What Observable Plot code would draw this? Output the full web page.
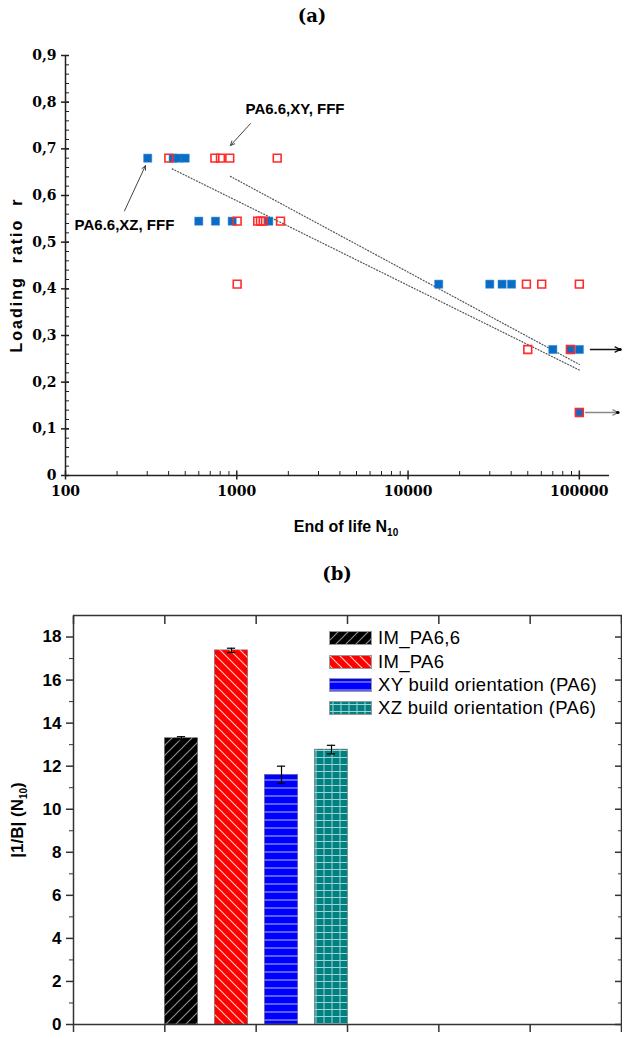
<!DOCTYPE html>
<html><head><meta charset="utf-8">
<script src="https://cdn.jsdelivr.net/npm/d3@7"></script>
<script src="https://cdn.jsdelivr.net/npm/@observablehq/plot@0.6"></script>
<style>
body{margin:0;background:#fff;}
#wrap{position:relative;width:622px;height:1038px;overflow:hidden;font-family:"Liberation Sans",Arial,sans-serif;color:#000;}
.abs{position:absolute;white-space:nowrap;}
.center{transform:translate(-50%,-50%);}
.rot{transform:translate(-50%,-50%) rotate(-90deg);}
.title{font-family:"DejaVu Serif",serif;font-weight:bold;font-size:18px;}
sub{font-size:10px;vertical-align:-4px;line-height:0;}
.legrow{position:absolute;left:329px;height:14px;}
.legrow svg{position:absolute;left:0;top:0;}
.legrow span{position:absolute;left:49px;top:50%;transform:translateY(-50%);font-size:18.5px;letter-spacing:0.3px;white-space:nowrap;}
</style></head><body>
<svg width="0" height="0" style="position:absolute">
<defs>
<pattern id="pat0" patternUnits="userSpaceOnUse" width="10" height="10">
<rect width="10" height="10" fill="#000"/>
<path d="M-2,2 l4,-4 M0,10 l10,-10 M8,12 l4,-4" stroke="#8c8c8c" stroke-width="1.2"/>
</pattern>
<pattern id="pat1" patternUnits="userSpaceOnUse" width="10" height="10">
<rect width="10" height="10" fill="#ff0000"/>
<path d="M0,0 l10,10 M-2,8 l4,4 M8,-2 l4,4" stroke="#ffc4c4" stroke-width="1.2"/>
</pattern>
<pattern id="pat2" patternUnits="userSpaceOnUse" width="8" height="8">
<rect width="8" height="8" fill="#0000ff"/>
<path d="M0,4 h8" stroke="#9a9aff" stroke-width="1.2"/>
</pattern>
<pattern id="pat3" patternUnits="userSpaceOnUse" width="8" height="7">
<rect width="8" height="7" fill="#008080"/>
<path d="M0,3.5 h8 M4,0 v7" stroke="#9fd4d4" stroke-width="1"/>
</pattern>
</defs>
</svg>
<div id="wrap"></div>
<script>
// ---------- (a) S-N data ----------
// PA6.6, XZ, FFF (blue filled squares)
const xzLife  = [302, 425, 455, 500, 600, 751, 940, 1538, 15100, 30000, 35400, 40200, 70000, 88700, 100000, 100000];
const xzRatio = [0.68, 0.68, 0.68, 0.68, 0.545, 0.545, 0.545, 0.545, 0.41, 0.41, 0.41, 0.41, 0.27, 0.27, 0.27, 0.135];
// PA6.6, XY, FFF (red open squares)
const xyLife  = [401, 745, 803, 910, 1722, 1005, 1325, 1375, 1426, 1800, 1005, 49100, 60300, 100000, 50000, 88700, 100000];
const xyRatio = [0.68, 0.68, 0.68, 0.68, 0.68, 0.545, 0.545, 0.545, 0.545, 0.545, 0.41, 0.41, 0.41, 0.41, 0.27, 0.27, 0.135];
// dotted fit lines
const fitSeries = ["XZ", "XZ", "XY", "XY"];
const fitLife   = [420, 100000, 918, 100000];
const fitRatio  = [0.657, 0.226, 0.641, 0.238];
// run-out arrows
const runoutRatio = [0.27, 0.135];
const runoutFrom  = [116000, 108700];
const runoutTo    = [174000, 169000];
const runoutColor = ["#111", "#888"];
// annotations
const annLabels    = ["PA6.6,XY, FFF", "PA6.6,XZ, FFF"];
const annTextLife  = [1125, 113];
const annTextRatio = [0.784, 0.537];
const annFromLife  = [1202, 221];
const annFromRatio = [0.754, 0.567];
const annToLife    = [918, 293];
const annToRatio   = [0.707, 0.664];
// axes
const yMajor = d3.range(0, 10).map(i => i / 10);
const yMinor = d3.range(0, 46).map(i => +(i / 50).toFixed(2));
const xMajor = [100, 1000, 10000, 100000];
const xMinor = [];
for (const k of [100, 1000, 10000, 100000]) for (let m = 2; m <= 9; m++) if (k * m <= 150000) xMinor.push(k * m);

// ---------- (b) bar data ----------
const barLabels = ["IM_PA6,6", "IM_PA6", "XY build orientation (PA6)", "XZ build orientation (PA6)"];
const barValues = [13.3, 17.38, 11.6, 12.77];
const barErrors = [0.07, 0.1, 0.4, 0.2];
const barFills  = ["url(#pat0)", "url(#pat1)", "url(#pat2)", "url(#pat3)"];
const b_yMajor = d3.range(0, 19, 2);
const b_yMinor = d3.range(1, 19, 2);
const b_xTicks = d3.range(0, 7);

const wrap = document.getElementById("wrap");
function addDiv(html, cls, left, top, style = "") {
  const d = document.createElement("div");
  d.className = "abs " + cls;
  d.style.cssText = `left:${left}px;top:${top}px;` + style;
  d.innerHTML = html;
  wrap.appendChild(d);
  return d;
}

// ----- Plot (a) -----
const xzPts = xzLife.map((n, i) => ({n, r: xzRatio[i]}));
const xyPts = xyLife.map((n, i) => ({n, r: xyRatio[i]}));
const fitPts = fitLife.map((n, i) => ({n, r: fitRatio[i], s: fitSeries[i]}));
const runouts = runoutRatio.map((r, i) => ({r, a: runoutFrom[i], b: runoutTo[i], c: runoutColor[i]}));
const anns = annLabels.map((t, i) => ({t, tx: annTextLife[i], ty: annTextRatio[i],
  x1: annFromLife[i], y1: annFromRatio[i], x2: annToLife[i], y2: annToRatio[i]}));
const yfmt = d => d === 0 ? "0" : d.toFixed(1).replace(".", ",");
const blank = () => "";

const plotA = Plot.plot({
  width: 622, height: 545,
  marginTop: 55, marginBottom: 70, marginLeft: 65, marginRight: 13,
  style: {fontFamily: "'DejaVu Serif', serif", fontWeight: "bold", fontSize: "14px", background: "transparent", color: "#000"},
  x: {type: "log", domain: [100, 150000]},
  y: {domain: [0, 0.9]},
  marks: [
    Plot.ruleX([100], {y1: 0, y2: 0.9, stroke: "#222", strokeWidth: 1.5}),
    Plot.ruleY([0], {x1: 100, x2: 150000, stroke: "#222", strokeWidth: 1.5}),
    Plot.axisY({ticks: yMinor, tickSize: 4, dx: 4, tickFormat: blank, label: null, stroke: "#222"}),
    Plot.axisY({ticks: yMajor, tickSize: 8, dx: 4, tickFormat: blank, label: null, stroke: "#222", strokeWidth: 1.5}),
    Plot.axisY({ticks: yMajor, tickSize: 0, tickPadding: 9, tickFormat: yfmt, label: null}),
    Plot.axisX({ticks: xMinor, tickSize: 4, dy: -4, tickFormat: blank, label: null, stroke: "#222"}),
    Plot.axisX({ticks: xMajor, tickSize: 9, dy: -4.5, tickFormat: blank, label: null, stroke: "#222", strokeWidth: 1.5}),
    Plot.axisX({ticks: xMajor, tickSize: 0, tickPadding: 11, tickFormat: d => String(d), label: null}),
    Plot.line(fitPts, {x: "n", y: "r", z: "s", stroke: "#555", strokeWidth: 1.2, strokeDasharray: "1,2"}),
    Plot.dot(xzPts, {x: "n", y: "r", symbol: "square", r: 4.6, fill: "#0a6cc4", stroke: "#2f86d6", strokeWidth: 0.5}),
    Plot.dot(xyPts, {x: "n", y: "r", symbol: "square", r: 4.4, fill: "none", stroke: "#ff2a2a", strokeWidth: 1.6}),
    Plot.arrow(runouts, {x1: "a", x2: "b", y1: "r", y2: "r", stroke: "c", strokeWidth: 1.3, headLength: 7, headAngle: 50}),
    Plot.arrow(runouts, {x1: d => d.b * 0.985, x2: "b", y1: "r", y2: "r", stroke: "#000", strokeWidth: 2.5, headLength: 6, headAngle: 70}),
    Plot.arrow(anns, {x1: "x1", y1: "y1", x2: "x2", y2: "y2", stroke: "#444", strokeWidth: 1, headLength: 7, headAngle: 50}),
    Plot.text(anns, {x: "tx", y: "ty", text: "t", textAnchor: "start", lineAnchor: "middle",
      fontFamily: "'Liberation Sans', Arial, sans-serif", fontWeight: "bold", fontSize: 15, fill: "#000"})
  ]
});
plotA.style.position = "absolute";
plotA.style.left = "0px";
plotA.style.top = "0px";
wrap.appendChild(plotA);

addDiv("(a)", "title center", 312, 15);
addDiv("Loading&nbsp;&nbsp;ratio&nbsp;&nbsp;r", "rot", 17, 275,
  "font-weight:bold;font-size:16px;letter-spacing:2px;");
addDiv("End of life N<sub>10</sub>", "center", 346, 527, "font-weight:bold;font-size:16px;");

// ----- Plot (b) -----
const barW = 0.365, pitch = 0.5475, start = 1;
const bars = barLabels.map((label, i) => ({label, v: barValues[i], e: barErrors[i], f: barFills[i],
  x1: start + i * pitch, x2: start + i * pitch + barW, c: start + i * pitch + barW / 2}));

const plotB = Plot.plot({
  width: 622, height: 438,
  marginTop: 15, marginBottom: 14, marginLeft: 73, marginRight: 1,
  style: {fontFamily: "'Liberation Sans', Arial, sans-serif", fontWeight: "bold", fontSize: "17px", background: "transparent", color: "#000"},
  x: {domain: [0, 6]},
  y: {domain: [0, 19]},
  color: {type: "identity"},
  marks: [
    Plot.rectY(bars, {x1: "x1", x2: "x2", y1: 0, y2: "v", fill: "f", stroke: "#777", strokeWidth: 0.6}),
    Plot.ruleX(bars, {x: "c", y1: d => d.v - d.e, y2: d => d.v + d.e, stroke: "#000", strokeWidth: 1.2}),
    Plot.ruleY(bars, {y: d => d.v + d.e, x1: d => d.c - 0.045, x2: d => d.c + 0.045, stroke: "#000", strokeWidth: 1.2}),
    Plot.ruleY(bars, {y: d => d.v - d.e, x1: d => d.c - 0.045, x2: d => d.c + 0.045, stroke: "#000", strokeWidth: 1.2}),
    Plot.frame({stroke: "#333", strokeWidth: 1.5}),
    Plot.axisX({anchor: "bottom", ticks: b_xTicks, tickSize: 8, tickFormat: blank, label: null, stroke: "#333", strokeWidth: 1.5}),
    Plot.axisX({anchor: "top", ticks: b_xTicks, tickSize: 8, dy: 8, tickFormat: blank, label: null, stroke: "#333", strokeWidth: 1.5}),
    Plot.axisY({anchor: "left", ticks: b_yMajor, tickSize: 7, tickPadding: 5, label: null, stroke: "#333", strokeWidth: 1.5}),
    Plot.axisY({anchor: "left", ticks: b_yMinor, tickSize: 4, tickFormat: blank, label: null, stroke: "#333"}),
    Plot.axisY({anchor: "right", ticks: b_yMajor, tickSize: 7, dx: -7, tickFormat: blank, label: null, stroke: "#333", strokeWidth: 1.5}),
    Plot.axisY({anchor: "right", ticks: b_yMinor, tickSize: 4, dx: -4, tickFormat: blank, label: null, stroke: "#333"})
  ]
});
plotB.style.position = "absolute";
plotB.style.left = "0px";
plotB.style.top = "600px";
wrap.appendChild(plotB);

addDiv("(b)", "title center", 337, 573);
addDiv("|1/B| (N<sub>10</sub>)", "rot", 18, 820, "font-weight:bold;font-size:17px;");

// legend
const legTops = [638.3, 661.7, 685, 708.3];
barLabels.forEach((label, i) => {
  const row = document.createElement("div");
  row.className = "legrow";
  row.style.top = (legTops[i] - 7) + "px";
  row.innerHTML = `<svg width="43" height="14"><rect x="0.5" y="0.5" width="42" height="13" fill="${barFills[i]}" stroke="#999" stroke-width="1"/></svg><span>${label}</span>`;
  wrap.appendChild(row);
});
</script>
</body></html>
